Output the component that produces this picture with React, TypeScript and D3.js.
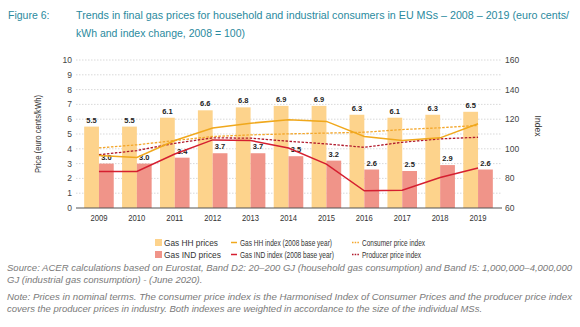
import React from "react";
import * as d3 from "d3";

const years = ["2009","2010","2011","2012","2013","2014","2015","2016","2017","2018","2019"];
const hhPrices = [5.5,5.5,6.1,6.6,6.8,6.9,6.9,6.3,6.1,6.3,6.5];
const indPrices = [3.0,3.0,3.4,3.7,3.7,3.5,3.2,2.6,2.5,2.9,2.6];
const hhIndex = [95.4,94.2,105.6,114,117.3,119.7,118.5,108.3,105.6,107.4,116.9];
const indIndex = [84.7,84.7,96.5,106,105.6,100.5,89.7,71.6,72,80.6,87];
const cpi = [100.6,102.7,105.6,108.3,109.4,110.1,110.6,111.2,113,114.2,115.8];
const ppi = [96,98.8,103.7,107.4,107.2,105.1,103.3,101,104.4,106.7,107.8];
const leftTicks = [0,1,2,3,4,5,6,7,8,9,10];
const rightTicks = [60,80,100,120,140,160];

const C_HH = "#FDD38C";
const C_IND = "#F09489";
const C_HHL = "#F0A81C";
const C_INDL = "#D51F30";
const C_CPI = "#F3A62A";
const C_PPI = "#B11A2C";
const TEAL = "#2A8A9E";
const FONT = "'Liberation Sans', Arial, sans-serif";

export default function App() {
  const W = 580, H = 327;
  const x = d3.scaleBand<string>().domain(years).range([80, 497]).paddingInner(0.22).paddingOuter(0.11);
  const xs = d3.scaleBand<string>().domain(["hh", "ind"]).range([0, x.bandwidth()]);
  const yL = d3.scaleLinear().domain([0, 10]).range([208, 60]);
  const yR = d3.scaleLinear().domain([60, 160]).range([208, 60]);
  const cx = (i: number) => (x(years[i]) as number) + x.bandwidth() / 2;
  const line = d3.line<number>().x((_, i) => cx(i)).y((d) => yR(d));

  return (
    <svg width={W} height={H} style={{ position: "absolute", left: 0, top: 0, background: "#fff" }} fontFamily={FONT}>
      {/* Title */}
      <g fill={TEAL} fontSize={10.5}>
        <text x={8} y={19}>Figure 6:</text>
        <text x={76} y={19} textLength={493} lengthAdjust="spacingAndGlyphs">Trends in final gas prices for household and industrial consumers in EU MSs – 2008 – 2019 (euro cents/</text>
        <text x={76} y={37}>kWh and index change, 2008 = 100)</text>
      </g>

      {/* gridlines */}
      {leftTicks.filter((t) => t > 0).map((t) => (
        <line key={t} x1={76} x2={501} y1={yL(t)} y2={yL(t)} stroke="#c8c8c8" strokeWidth={0.7} strokeDasharray="1.5,1.5" />
      ))}

      {/* bars */}
      {years.map((yr, i) => (
        <g key={yr}>
          <rect x={(x(yr) as number) + (xs("hh") as number)} y={yL(hhPrices[i])} width={xs.bandwidth()} height={yL(0) - yL(hhPrices[i])} fill={C_HH} />
          <rect x={(x(yr) as number) + (xs("ind") as number)} y={yL(indPrices[i])} width={xs.bandwidth()} height={yL(0) - yL(indPrices[i])} fill={C_IND} />
          <text x={(x(yr) as number) + (xs("hh") as number) + xs.bandwidth() / 2} y={yL(hhPrices[i]) - 4} textAnchor="middle" fontSize={7.5} fontWeight="bold" fill="#222">{hhPrices[i].toFixed(1)}</text>
          <text x={(x(yr) as number) + (xs("ind") as number) + xs.bandwidth() / 2} y={yL(indPrices[i]) - 4} textAnchor="middle" fontSize={7.5} fontWeight="bold" fill="#222">{indPrices[i].toFixed(1)}</text>
        </g>
      ))}

      {/* lines */}
      <path d={line(cpi) || ""} fill="none" stroke={C_CPI} strokeWidth={1.3} strokeDasharray="2.5,1.5" />
      <path d={line(ppi) || ""} fill="none" stroke={C_PPI} strokeWidth={1.3} strokeDasharray="2.5,1.5" />
      <path d={line(hhIndex) || ""} fill="none" stroke={C_HHL} strokeWidth={1.5} />
      <path d={line(indIndex) || ""} fill="none" stroke={C_INDL} strokeWidth={1.5} />

      {/* axis baseline */}
      <line x1={76} x2={502} y1={yL(0)} y2={yL(0)} stroke="#555" strokeWidth={1.2} />

      {/* left ticks */}
      {leftTicks.map((t) => (
        <text key={t} x={72} y={yL(t) + 3} textAnchor="end" fontSize={8.5} fill="#444">{t}</text>
      ))}
      {/* right ticks */}
      {rightTicks.map((t) => (
        <text key={t} x={505} y={yR(t) + 3} textAnchor="start" fontSize={8.5} fill="#444">{t}</text>
      ))}
      {/* x labels */}
      {years.map((yr, i) => (
        <text key={yr} x={cx(i)} y={221} textAnchor="middle" fontSize={9} fill="#333" textLength={17} lengthAdjust="spacingAndGlyphs">{yr}</text>
      ))}

      {/* axis titles */}
      <text transform={`translate(41,${(yL(0) + yL(10)) / 2}) rotate(-90)`} textAnchor="middle" fontSize={8.5} fill="#333" textLength={78} lengthAdjust="spacingAndGlyphs">Price (euro cents/kWh)</text>
      <text transform={`translate(535,${(yL(0) + yL(10)) / 2 - 8}) rotate(90)`} textAnchor="middle" fontSize={8.5} fill="#333">Index</text>

      {/* legend */}
      <g fontSize={9} fill="#333">
        <rect x={155} y={239} width={7} height={7} fill={C_HH} />
        <text x={164} y={245.5} textLength={54} lengthAdjust="spacingAndGlyphs">Gas HH prices</text>
        <rect x={155} y={251} width={7} height={7} fill={C_IND} />
        <text x={164} y={257.5} textLength={57} lengthAdjust="spacingAndGlyphs">Gas IND prices</text>

        <line x1={231} x2={237} y1={242.5} y2={242.5} stroke={C_HHL} strokeWidth={1.5} />
        <text x={240} y={245.5} textLength={92} lengthAdjust="spacingAndGlyphs">Gas HH index (2008 base year)</text>
        <line x1={231} x2={237} y1={254.5} y2={254.5} stroke={C_INDL} strokeWidth={1.5} />
        <text x={240} y={257.5} textLength={94} lengthAdjust="spacingAndGlyphs">Gas IND index (2008 base year)</text>

        <line x1={352} x2={359} y1={242.5} y2={242.5} stroke={C_CPI} strokeWidth={1.3} strokeDasharray="1.5,1.2" />
        <text x={362} y={245.5} textLength={63} lengthAdjust="spacingAndGlyphs">Consumer price index</text>
        <line x1={352} x2={359} y1={254.5} y2={254.5} stroke={C_PPI} strokeWidth={1.3} strokeDasharray="1.5,1.2" />
        <text x={362} y={257.5} textLength={59} lengthAdjust="spacingAndGlyphs">Producer price index</text>
      </g>

      {/* footer */}
      <g fontSize={9.5} fill="#7a7a7a" fontStyle="italic">
        <text x={7} y={271} textLength={565} lengthAdjust="spacingAndGlyphs">Source: ACER calculations based on Eurostat, Band D2: 20–200 GJ (household gas consumption) and Band I5: 1,000,000–4,000,000</text>
        <text x={7} y={283}>GJ (industrial gas consumption) - (June 2020).</text>
        <text x={7} y={300} textLength={565} lengthAdjust="spacingAndGlyphs">Note: Prices in nominal terms. The consumer price index is the Harmonised Index of Consumer Prices and the producer price index</text>
        <text x={7} y={312}>covers the producer prices in industry. Both indexes are weighted in accordance to the size of the individual MSs.</text>
      </g>
    </svg>
  );
}
